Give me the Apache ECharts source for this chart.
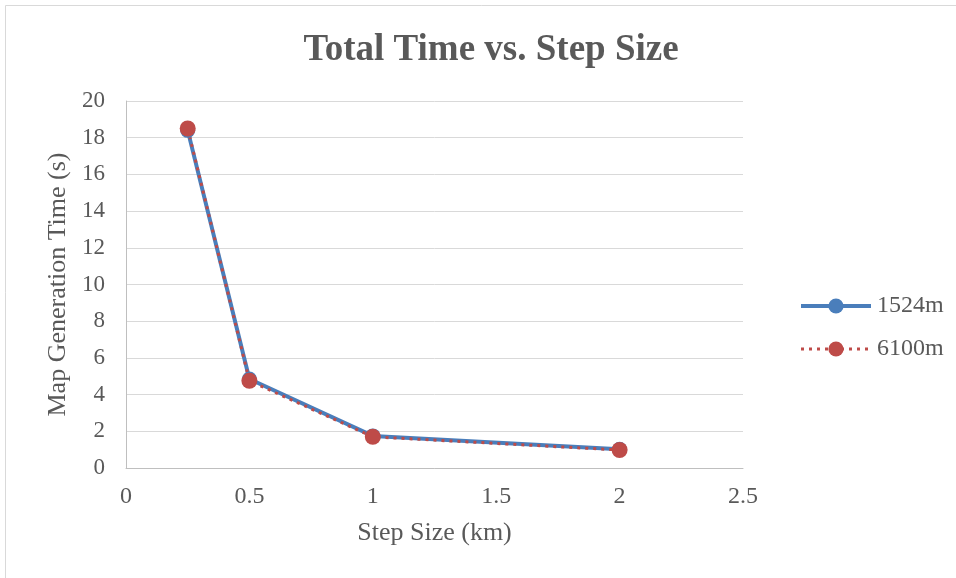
<!DOCTYPE html>
<html><head><meta charset="utf-8">
<script src="https://cdn.jsdelivr.net/npm/echarts@6/dist/echarts.min.js"></script>
<style>html,body{margin:0;padding:0;background:#fff}#c{width:956px;height:578px}</style>
</head><body><div id="c"></div>
<script>
var stepSizes = [0.25, 0.5, 1, 2];
var series1524 = [18.4, 4.85, 1.75, 1.02];
var series6100 = [18.5, 4.75, 1.7, 0.98];
var seriesNames = ['1524m', '6100m'];

function pairs(xs, ys){ return xs.map(function(x,i){ return [x, ys[i]]; }); }
var font = '"Liberation Serif", "Times New Roman", serif';
var chart = echarts.init(document.getElementById('c'));
chart.setOption({
  animation: false,
  backgroundColor: '#fff',
  title: {
    text: 'Total Time vs. Step Size', left: 486, top: 27, textAlign: 'center',
    textStyle: {fontFamily: font, fontSize: 37, fontWeight: 'bold', color: '#595959'}
  },
  graphic: [{type: 'rect', shape: {x: 5.5, y: 5.5, width: 1000, height: 1000},
    style: {fill: 'none', stroke: '#d9d9d9', lineWidth: 1}, silent: true}],
  grid: {left: 126, right: 213, top: 101, bottom: 110},
  legend: {
    orient: 'vertical', left: 794, top: 289, itemGap: 19, itemWidth: 70, itemHeight: 19,
    lineStyle: {width: 'inherit'},
    textStyle: {fontFamily: font, fontSize: 24, color: '#595959', padding: [0, 0, 0, 1]},
    data: seriesNames
  },
  xAxis: {
    type: 'value', min: 0, max: 2.5, interval: 0.5,
    name: 'Step Size (km)', nameLocation: 'middle', nameGap: 52,
    nameTextStyle: {fontFamily: font, fontSize: 26, color: '#595959'},
    axisLine: {show: true, lineStyle: {color: '#bfbfbf', width: 1}},
    axisTick: {show: false},
    axisLabel: {fontFamily: font, fontSize: 24, color: '#595959', margin: 17},
    splitLine: {show: false}
  },
  yAxis: {
    type: 'value', min: 0, max: 20, interval: 2,
    name: 'Map Generation Time (s)', nameLocation: 'middle', nameGap: 48,
    nameTextStyle: {fontFamily: font, fontSize: 26, color: '#595959'},
    axisLine: {show: true, lineStyle: {color: '#bfbfbf', width: 1}},
    axisTick: {show: false},
    axisLabel: {fontFamily: font, fontSize: 23, color: '#595959', margin: 21},
    splitLine: {show: true, lineStyle: {color: '#d9d9d9', width: 1}}
  },
  series: [
    {name: seriesNames[0], type: 'line', data: pairs(stepSizes, series1524),
     symbol: 'circle', symbolSize: 15, lineStyle: {color: '#4A7EBB', width: 4},
     itemStyle: {color: '#4A7EBB'}},
    {name: seriesNames[1], type: 'line', data: pairs(stepSizes, series6100),
     symbol: 'circle', symbolSize: 16, lineStyle: {color: '#BE4B48', width: 3, type: [3, 5]},
     itemStyle: {color: '#BE4B48'}}
  ]
});
</script></body></html>
